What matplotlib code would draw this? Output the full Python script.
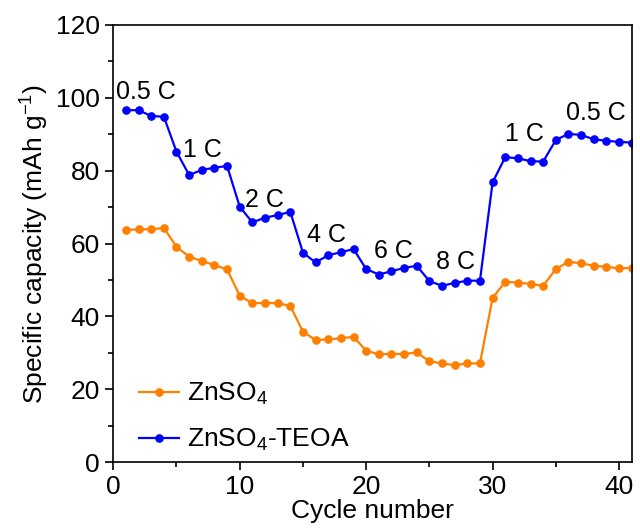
import numpy as np
import matplotlib.pyplot as plt

plt.rcParams['font.family'] = ['Liberation Sans', 'DejaVu Sans']
plt.rcParams['mathtext.fontset'] = 'custom'
plt.rcParams['mathtext.rm'] = 'Liberation Sans'
plt.rcParams['mathtext.it'] = 'Liberation Sans:italic'

# rate capability data, cycle 1..41
cycles = np.arange(1, 42)

znso4 = [63.7, 63.9, 63.9, 64.3, 59.1, 56.4, 55.2, 54.1, 52.9,
         45.7, 43.6, 43.7, 43.6, 42.9,
         35.8, 33.5, 33.7, 34.0, 34.4,
         30.6, 29.6, 29.7, 29.7, 30.1,
         27.7, 27.1, 26.6, 27.1, 27.1,
         45.1, 49.5, 49.3, 48.9, 48.4,
         53.0, 55.0, 54.6, 53.9, 53.6, 53.2, 53.3]

znso4_teoa = [96.6, 96.6, 95.0, 94.8, 85.2, 78.8, 80.2, 80.8, 81.3,
              70.1, 65.8, 67.1, 67.8, 68.7,
              57.5, 54.8, 56.8, 57.6, 58.5,
              53.0, 51.5, 52.4, 53.3, 53.9,
              49.7, 48.4, 49.2, 49.8, 49.8,
              76.8, 83.7, 83.4, 82.6, 82.5,
              88.4, 90.1, 89.8, 88.6, 88.2, 87.9, 87.7]

# current-rate labels: (text, x, y)
rate_labels = ['0.5 C', '1 C', '2 C', '4 C', '6 C', '8 C', '1 C', '0.5 C']
rate_x = [0.2, 5.5, 10.4, 15.3, 20.6, 25.5, 31.0, 35.8]
rate_y = [101.7, 85.7, 71.9, 62.3, 58.0, 55.0, 90.0, 95.7]

fig = plt.figure(figsize=(6.4, 5.3), dpi=100)
ax = fig.add_axes([0.177, 0.128, 0.81, 0.825])

ax.plot(cycles, znso4, '-o', color='#FF8000', lw=1.6, ms=5.2,
        label='ZnSO$_4$')
ax.plot(cycles, znso4_teoa, '-o', color='#0000FF', lw=1.6, ms=5.2,
        label='ZnSO$_4$-TEOA')

for txt, x, y in zip(rate_labels, rate_x, rate_y):
    ax.text(x, y, txt, fontsize=18, ha='left', va='center')

ax.set_xlim(0, 41)
ax.set_ylim(0, 120)
ax.set_xticks([0, 10, 20, 30, 40])
ax.set_xticks(np.arange(5, 41, 10), minor=True)
ax.set_yticks(np.arange(0, 121, 20))
ax.set_yticks(np.arange(10, 120, 20), minor=True)

ax.tick_params(which='major', direction='out', length=6, width=1.2,
               labelsize=19, top=False, right=False)
ax.tick_params(which='minor', direction='out', length=3.5, width=1.2,
               top=False, right=False)
for sp in ax.spines.values():
    sp.set_linewidth(1.2)

ax.set_xlabel('Cycle number', fontsize=19, labelpad=0)
ax.set_ylabel('Specific capacity (mAh g$^{-1}$)', fontsize=19, labelpad=4)

ax.legend(loc='lower left', bbox_to_anchor=(0.02, -0.016), frameon=False,
          fontsize=19, handlelength=1.5, handletextpad=0.3,
          labelspacing=0.75, borderaxespad=0.2)

fig.savefig('out.png', dpi=100)
